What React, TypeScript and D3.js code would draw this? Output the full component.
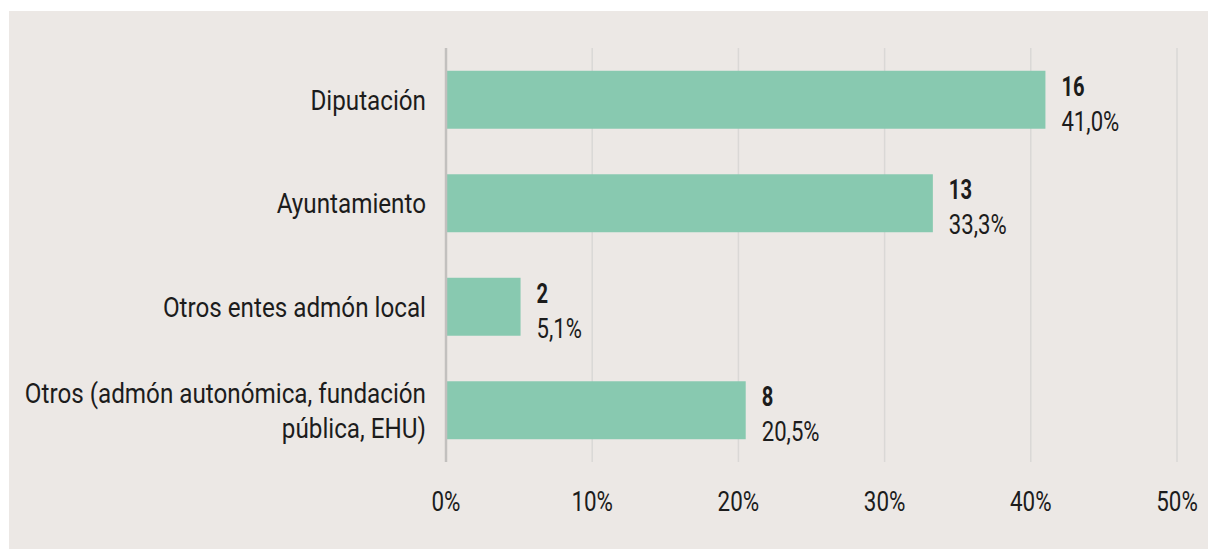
import React from "react";
import * as d3 from "d3";

const categories = [
  ["Diputación"],
  ["Ayuntamiento"],
  ["Otros entes admón local"],
  ["Otros (admón autonómica, fundación", "pública, EHU)"],
];
const counts = [16, 13, 2, 8];
const percents = [41.0, 33.3, 5.1, 20.5];
const xTicks = [0, 10, 20, 30, 40, 50];

const FONT = "Roboto, 'Noto Sans', sans-serif";

// squeeze text horizontally to mimic the condensed face of the original
const condense = (sel, k) => {
  sel.each(function () {
    const len = this.getComputedTextLength();
    d3.select(this)
      .attr("textLength", len * k)
      .attr("lengthAdjust", "spacingAndGlyphs");
  });
};

const App = () => {
  const svgRef = React.useRef(null);
  const width = 1208;
  const height = 549;

  React.useEffect(() => {
    const svg = d3.select(svgRef.current);
    svg.selectAll("*").remove();

    // background panel
    svg
      .append("rect")
      .attr("x", 9)
      .attr("y", 11)
      .attr("width", width - 9)
      .attr("height", height - 11)
      .attr("fill", "#ece8e5");

    const xScale = d3.scaleLinear().domain([0, 50]).range([446, 1177]);
    const yScale = d3
      .scaleBand()
      .domain(categories.map((d, i) => String(i)))
      .range([48, 462])
      .paddingInner(0.44)
      .paddingOuter(0.22);

    // gridlines
    svg
      .append("g")
      .selectAll("line")
      .data(xTicks.slice(1))
      .join("line")
      .attr("x1", (d) => xScale(d))
      .attr("x2", (d) => xScale(d))
      .attr("y1", 48)
      .attr("y2", 462)
      .attr("stroke", "#dad8d6")
      .attr("stroke-width", 1.5);

    // bars
    svg
      .append("g")
      .selectAll("rect")
      .data(percents)
      .join("rect")
      .attr("x", xScale(0))
      .attr("y", (d, i) => yScale(String(i)))
      .attr("width", (d) => xScale(d) - xScale(0))
      .attr("height", yScale.bandwidth())
      .attr("fill", "#88c9b0");

    // y axis line
    svg
      .append("line")
      .attr("x1", xScale(0))
      .attr("x2", xScale(0))
      .attr("y1", 48)
      .attr("y2", 462)
      .attr("stroke", "#c2c0be")
      .attr("stroke-width", 2.5);

    // category labels
    const labels = svg
      .append("g")
      .attr("font-family", FONT)
      .attr("font-size", 28)
      .attr("fill", "#1c1c1c")
      .attr("text-anchor", "end");
    categories.forEach((lines, i) => {
      const cy = yScale(String(i)) + yScale.bandwidth() / 2;
      const lh = 35;
      lines.forEach((l, j) => {
        labels
          .append("text")
          .attr("x", 426)
          .attr("y", cy + (j - (lines.length - 1) / 2) * lh)
          .attr("dy", "0.36em")
          .text(l)
          .call(condense, 0.865);
      });
    });

    // value labels
    const vals = svg.append("g").attr("font-family", FONT).attr("fill", "#1c1c1c");
    percents.forEach((p, i) => {
      const cy = yScale(String(i)) + yScale.bandwidth() / 2;
      vals
        .append("text")
        .attr("x", xScale(p) + 16)
        .attr("y", cy - 14)
        .attr("dy", "0.36em")
        .attr("font-size", 28)
        .attr("font-weight", "bold")
        .text(counts[i])
        .call(condense, 0.72);
      vals
        .append("text")
        .attr("x", xScale(p) + 16)
        .attr("y", cy + 21)
        .attr("dy", "0.36em")
        .attr("font-size", 28)
        .text(p.toFixed(1).replace(".", ",") + "%")
        .call(condense, 0.79);
    });

    // x tick labels
    svg
      .append("g")
      .attr("font-family", FONT)
      .attr("font-size", 28)
      .attr("fill", "#1c1c1c")
      .attr("text-anchor", "middle")
      .selectAll("text")
      .data(xTicks)
      .join("text")
      .attr("x", (d) => xScale(d))
      .attr("y", 501)
      .attr("dy", "0.36em")
      .text((d) => d + "%")
      .call(condense, 0.8);
  }, []);

  return (
    <svg
      ref={svgRef}
      width={width}
      height={height}
      style={{ position: "absolute", left: 0, top: 0, display: "block" }}
    />
  );
};

export default App;
